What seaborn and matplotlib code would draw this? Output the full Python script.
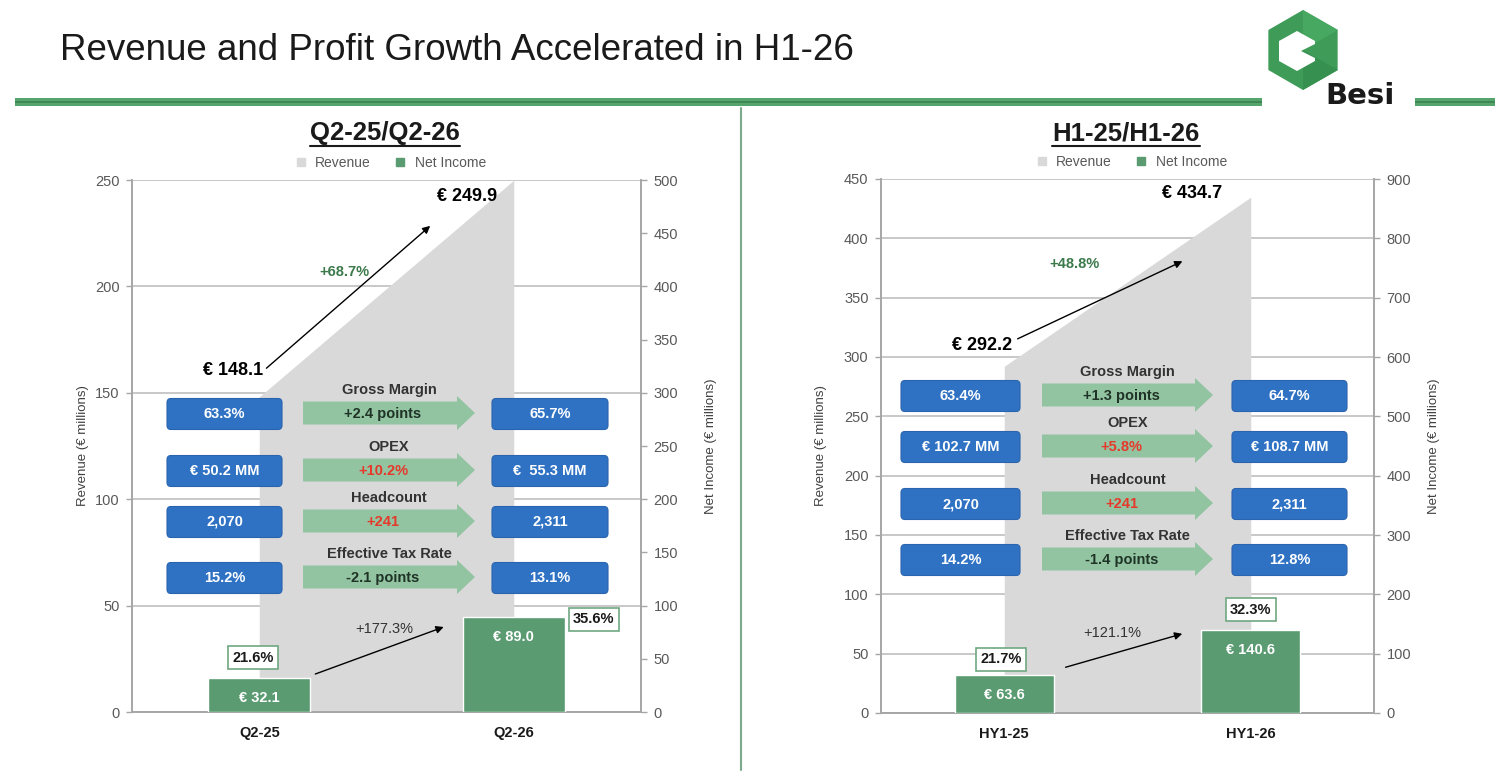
import matplotlib
matplotlib.use("Agg")
import matplotlib.pyplot as plt
import seaborn as sns
import numpy as np
import pandas as pd
from matplotlib.patches import FancyBboxPatch, Polygon, Rectangle, RegularPolygon
from matplotlib.lines import Line2D

# ---------------- data ----------------
q_periods = ["Q2-25", "Q2-26"]
q_revenue = [148.1, 249.9]
q_net_income = [32.1, 89.0]
q_net_margin = ["21.6%", "35.6%"]
q_rev_growth = "+68.7%"
q_ni_growth = "+177.3%"

h_periods = ["HY1-25", "HY1-26"]
h_revenue = [292.2, 434.7]
h_net_income = [63.6, 140.6]
h_net_margin = ["21.7%", "32.3%"]
h_rev_growth = "+48.8%"
h_ni_growth = "+121.1%"

kpi_names = ["Gross Margin", "OPEX", "Headcount", "Effective Tax Rate"]
kpi_red = [False, True, True, False]
q_kpi_from = ["63.3%", "€ 50.2 MM", "2,070", "15.2%"]
q_kpi_to = ["65.7%", "€  55.3 MM", "2,311", "13.1%"]
q_kpi_delta = ["+2.4 points", "+10.2%", "+241", "-2.1 points"]
h_kpi_from = ["63.4%", "€ 102.7 MM", "2,070", "14.2%"]
h_kpi_to = ["64.7%", "€ 108.7 MM", "2,311", "12.8%"]
h_kpi_delta = ["+1.3 points", "+5.8%", "+241", "-1.4 points"]

# ---------------- style ----------------
REV_GREY = "#D9D9D9"
NI_GREEN = "#5A9B72"
BLUE = "#2F72C4"
ARROW_GREEN = "#93C4A2"
RED = "#E5392B"
AXIS_GREY = "#A6A6A6"
TICK_TXT = "#595959"

sns.set_theme(style="white")
plt.rcParams["font.family"] = ["Liberation Sans", "DejaVu Sans"]

W, H = 1502, 778
fig = plt.figure(figsize=(W / 100, H / 100), dpi=100)
fig.patch.set_facecolor("white")


def px_rect(x0, y0, x1, y1):
    return [x0 / W, 1 - y1 / H, (x1 - x0) / W, (y1 - y0) / H]


panels = [
    dict(rect=(132, 180, 641, 712), title="Q2-25/Q2-26", title_xy=(385, 133),
         periods=q_periods, revenue=q_revenue, net_income=q_net_income,
         margin=q_net_margin, rev_growth=q_rev_growth, ni_growth=q_ni_growth,
         kfrom=q_kpi_from, kto=q_kpi_to, kdelta=q_kpi_delta,
         ymax=250, y2max=500, y2step=50, pads=(4, 19),
         rev_off=[(4, 26), (-17, -16)], margin_off=[(-6, 20), (80, -2)],
         rev_arrow=((0.02, 160.7), (0.68, 229.3)), rev_lbl=(0.335, 206.8),
         ni_arrow=((0.21, 34.8), (0.735, 80.8)), ni_lbl=(0.49, 78),
         rows=[414, 471, 522, 578], bfrom=(167, 282), bto=(492, 608),
         arr=(303, 457, 475)),
    dict(rect=(881, 179, 1374, 713), title="H1-25/H1-26", title_xy=(1126, 133),
         periods=h_periods, revenue=h_revenue, net_income=h_net_income,
         margin=h_net_margin, rev_growth=h_rev_growth, ni_growth=h_ni_growth,
         kfrom=h_kpi_from, kto=h_kpi_to, kdelta=h_kpi_delta,
         ymax=450, y2max=900, y2step=100, pads=(12, 12),
         rev_off=[(8, 21), (-29, 4)], margin_off=[(-3, 16), (0, 20)],
         rev_arrow=((0.044, 314.3), (0.733, 381.7)), rev_lbl=(0.287, 378.4),
         ni_arrow=((0.238, 75.8), (0.733, 134.8)), ni_lbl=(0.437, 134.8),
         rows=[396, 447, 504, 560], bfrom=(901, 1020), bto=(1232, 1347),
         arr=(1042, 1195, 1213)),
]

# overlay in pixel coordinates for slide decoration
ov = fig.add_axes([0, 0, 1, 1], zorder=10)
ov.set_xlim(0, W)
ov.set_ylim(H, 0)
ov.axis("off")
ov.patch.set_alpha(0)

for p in panels:
    ax = fig.add_axes(px_rect(*p["rect"]))
    ax2 = ax.twinx()

    # revenue as grey area between the two period centres
    ax.fill_between(range(len(p["periods"])), p["revenue"], color=REV_GREY, lw=0, zorder=1)
    ax.set_axisbelow(True)
    ax.set_ylim(0, p["ymax"])
    ax.set_yticks(np.arange(0, p["ymax"] + 1, 50))
    ax.yaxis.grid(True, color="#C4C4C4", lw=1.3)
    ax.xaxis.grid(False)

    # net income bars on the secondary axis
    df = pd.DataFrame({"period": p["periods"], "net_income": p["net_income"]})
    sns.barplot(data=df, x="period", y="net_income", color=NI_GREEN, saturation=1,
                width=0.4, ax=ax2, zorder=3)
    ax2.set_ylim(0, p["y2max"])
    ax2.set_yticks(np.arange(0, p["y2max"] + 1, p["y2step"]))
    ax2.set_xlabel("")

    ax.set_xlim(-0.5, len(p["periods"]) - 0.5)
    ax.set_xticks(range(len(p["periods"])))
    ax.set_xticklabels(p["periods"], fontweight="bold", fontsize=10.5, color="#1a1a1a")
    ax.set_xticks([-0.5, 0.5, 1.5], minor=True)
    ax.tick_params(axis="x", which="major", length=0, pad=10)
    ax.tick_params(axis="x", which="minor", length=4, color=AXIS_GREY, width=1)

    for a in (ax, ax2):
        for s in a.spines.values():
            s.set_color(AXIS_GREY)
            s.set_linewidth(1.2)
        a.spines["top"].set_visible(False)
        a.tick_params(axis="y", length=4, width=1, color=AXIS_GREY,
                      labelsize=10.5, labelcolor=TICK_TXT, pad=5)
    ax.set_ylabel("Revenue (€ millions)", fontsize=9.5, color="#404040",
                  labelpad=p["pads"][0])
    ax2.set_ylabel("Net Income (€ millions)", fontsize=9.5, color="#404040",
                   labelpad=p["pads"][1])

    # legend
    handles = [Line2D([], [], marker="s", ls="", color=REV_GREY, markersize=5.5, label="Revenue"),
               Line2D([], [], marker="s", ls="", color=NI_GREEN, markersize=5.5, label="Net Income")]
    ax.legend(handles=handles, loc="lower center", bbox_to_anchor=(0.5, 1.0), ncol=2,
              frameon=False, fontsize=10, handletextpad=0.05, columnspacing=1.1,
              labelcolor=TICK_TXT, borderaxespad=0.3)

    # revenue value labels + growth arrow
    for i, v in enumerate(p["revenue"]):
        ax.annotate(f"€ {v}", xy=(i, v), xytext=p["rev_off"][i], textcoords="offset pixels",
                    ha="right", va="center", fontsize=13, fontweight="bold", color="black",
                    zorder=6)
    (sx, sy), (ex, ey) = p["rev_arrow"]
    ax.annotate("", xy=(ex, ey), xytext=(sx, sy),
                arrowprops=dict(arrowstyle="-|>", color="black", lw=1, mutation_scale=11))
    ax.text(*p["rev_lbl"], p["rev_growth"], ha="center", va="center", fontsize=10.5,
            fontweight="bold", color="#3C7A4B")

    # net income labels, margins, growth arrow
    for i, v in enumerate(p["net_income"]):
        ax2.annotate(f"€ {v}", xy=(i, v), xytext=(0, -20), textcoords="offset pixels",
                     ha="center", va="center", fontsize=10.5, fontweight="bold",
                     color="white", zorder=6)
        ax2.annotate(p["margin"][i], xy=(i, v), xytext=p["margin_off"][i],
                     textcoords="offset pixels", ha="center", va="center", fontsize=10.5,
                     fontweight="bold", color="#1a1a1a", zorder=6,
                     bbox=dict(boxstyle="square,pad=0.3", fc="white", ec="#6FA882", lw=1.2))
    (sx, sy), (ex, ey) = p["ni_arrow"]
    ax2.annotate("", xy=(ex, ey), xytext=(sx, sy),
                 arrowprops=dict(arrowstyle="-|>", color="black", lw=1, mutation_scale=11))
    ax2.text(*p["ni_lbl"], p["ni_growth"], ha="center", va="center", fontsize=10.5,
             color="#333333")

    # KPI boxes and arrows
    for r, yc in enumerate(p["rows"]):
        for (x0, x1), txt in ((p["bfrom"], p["kfrom"][r]), (p["bto"], p["kto"][r])):
            ov.add_patch(FancyBboxPatch((x0, yc - 15.5), x1 - x0, 31,
                                        boxstyle="round,pad=0,rounding_size=4",
                                        fc=BLUE, ec="#2A64AD", lw=0.8))
            ov.text((x0 + x1) / 2, yc, txt, ha="center", va="center", fontsize=10.5,
                    fontweight="bold", color="white")
        a0, ah, at = p["arr"]
        yb = yc - 1
        ov.add_patch(Polygon([(a0, yb - 11.5), (ah, yb - 11.5), (ah, yb - 17), (at, yb),
                              (ah, yb + 17), (ah, yb + 11.5), (a0, yb + 11.5)],
                             closed=True, fc=ARROW_GREEN, ec="none"))
        ov.text((a0 + at) / 2 - 6, yb + 1, p["kdelta"][r], ha="center", va="center",
                fontsize=10.5, fontweight="bold",
                color=RED if kpi_red[r] else "#1F3326")
        ov.text((a0 + at) / 2, yc - 24, kpi_names[r], ha="center", va="center",
                fontsize=10.5, fontweight="bold", color="#333333")

    # panel title (underlined)
    t = ov.text(*p["title_xy"], p["title"], ha="center", va="center", fontsize=18.5,
                fontweight="bold", color="#1a1a1a")
    p["title_artist"] = t

# slide title
ov.text(60, 50, "Revenue and Profit Growth Accelerated in H1-26", ha="left", va="center",
        fontsize=26.5, color="#1a1a1a")

# green header band
for x0, x1 in ((15, 1262), (1415, 1495)):
    ov.add_patch(Rectangle((x0, 98), x1 - x0, 8, fc="#55A46C", ec="none"))
    ov.add_patch(Rectangle((x0, 101), x1 - x0, 2, fc="#3F8855", ec="none"))

# divider
ov.plot([741, 741], [108, 770], color="#7DAA8C", lw=1.5)

# logo
ov.add_patch(RegularPolygon((1303, 50), 6, radius=40, fc="#3E9C58", ec="none"))
ov.add_patch(Polygon([(1303, 10), (1338, 30), (1303, 50)], closed=True, fc="#47A862", ec="none"))
ov.add_patch(Polygon([(1303, 50), (1338, 70), (1303, 90)], closed=True, fc="#36904F", ec="none"))
ov.add_patch(Polygon([(1297, 31), (1315, 41), (1315, 44), (1301, 51), (1315, 58),
                      (1315, 61), (1297, 71), (1279, 61), (1279, 41)],
                     closed=True, fc="white", ec="none"))
ov.text(1360, 96, "Besi", ha="center", va="center", fontsize=21, fontweight="bold",
        color="#1a1a1a", family="DejaVu Sans")

# underline panel titles using rendered extent
fig.canvas.draw()
r = fig.canvas.get_renderer()
for p in panels:
    bb = p["title_artist"].get_window_extent(r)
    ov.plot([bb.x0, bb.x1], [H - bb.y0 + 1, H - bb.y0 + 1], color="#1a1a1a", lw=1.5)

fig.savefig("out.png", dpi=100)
